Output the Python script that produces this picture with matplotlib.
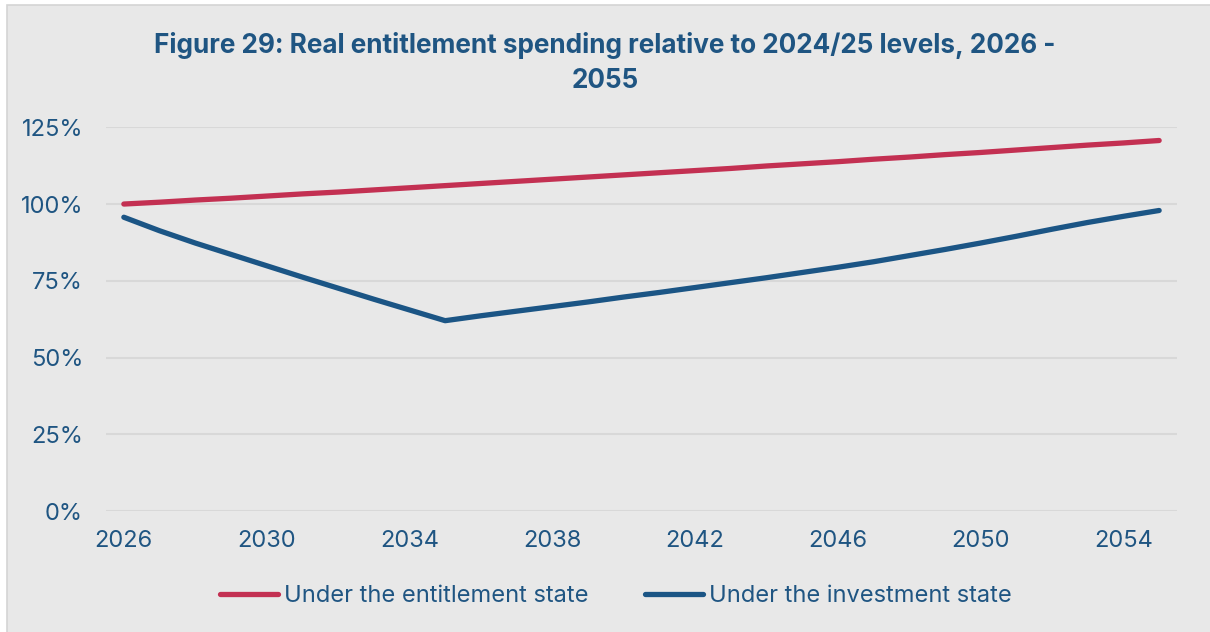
import matplotlib
matplotlib.use("Agg")
import matplotlib.pyplot as plt
from matplotlib.patches import Rectangle
from matplotlib.ticker import FuncFormatter

years = list(range(2026, 2056))
entitlement = [100.0, 100.6, 101.3, 101.9, 102.6, 103.3, 103.9, 104.6, 105.3, 106.0,
               106.7, 107.4, 108.1, 108.8, 109.5, 110.2, 110.9, 111.6, 112.4, 113.1,
               113.8, 114.6, 115.3, 116.1, 116.8, 117.6, 118.4, 119.2, 119.9, 120.7]
investment = [95.7, 91.3, 87.3, 83.6, 79.9, 76.2, 72.6, 69.0, 65.5, 62.0,
              63.6, 65.1, 66.6, 68.1, 69.7, 71.2, 72.8, 74.4, 76.0, 77.7,
              79.4, 81.2, 83.2, 85.2, 87.3, 89.5, 91.8, 94.0, 96.0, 97.9]
series_labels = ["Under the entitlement state", "Under the investment state"]
x_ticks = [2026, 2030, 2034, 2038, 2042, 2046, 2050, 2054]
y_ticks = [0, 25, 50, 75, 100, 125]
title = "Figure 29: Real entitlement spending relative to 2024/25 levels, 2026 -\n2055"

RED = "#c33052"
BLUE = "#1b5585"
TXT = "#1f5582"
BG = "#e8e8e8"

plt.rcParams['font.family'] = ['Inter', 'DejaVu Sans']

fig = plt.figure(figsize=(12.1, 6.32), dpi=100)
fig.patch.set_facecolor("white")
fig.patches.append(Rectangle((7 / 1210, -0.01), 1.2, 1 - 5 / 632 + 0.01,
                             transform=fig.transFigure, facecolor=BG,
                             edgecolor="#d4d4d4", linewidth=1.2, zorder=-10))

ax = fig.add_axes([106 / 1210, 1 - 511 / 632, (1177 - 106) / 1210, (511 - 127.3) / 632])
ax.set_facecolor(BG)
ax.plot(years, entitlement, color=RED, lw=3.8, solid_capstyle="round",
        solid_joinstyle="round", label=series_labels[0], zorder=3)
ax.plot(years, investment, color=BLUE, lw=3.8, solid_capstyle="round",
        solid_joinstyle="round", label=series_labels[1], zorder=3)

ax.set_xlim(2025.5, 2055.5)
ax.set_ylim(0, 125)
ax.set_xticks(x_ticks)
ax.set_yticks(y_ticks)
ax.yaxis.set_major_formatter(FuncFormatter(lambda v, p: f"{int(v)}%"))
ax.grid(axis="y", color="#d8d8d8", lw=1.5, zorder=0)
ax.grid(axis="x", visible=False)
for s in ax.spines.values():
    s.set_visible(False)
ax.tick_params(axis="both", length=0, labelsize=17, labelcolor=TXT)
ax.tick_params(axis="y", pad=16.5)
ax.tick_params(axis="x", pad=13.5)

fig.text(0.5, 1 - 63 / 632, title, ha="center", va="center", fontsize=18.8,
         fontweight="bold", color=TXT, linespacing=1.42)

handles, labels = ax.get_legend_handles_labels()
leg = fig.legend(handles, labels, loc="center", bbox_to_anchor=(616 / 1210, 1 - 596 / 632),
                 ncol=2, frameon=False, fontsize=17, handlelength=2.46,
                 handletextpad=0.25, columnspacing=2.4)
for t in leg.get_texts():
    t.set_color(TXT)

fig.savefig("out.png", dpi=100, facecolor=fig.get_facecolor())
